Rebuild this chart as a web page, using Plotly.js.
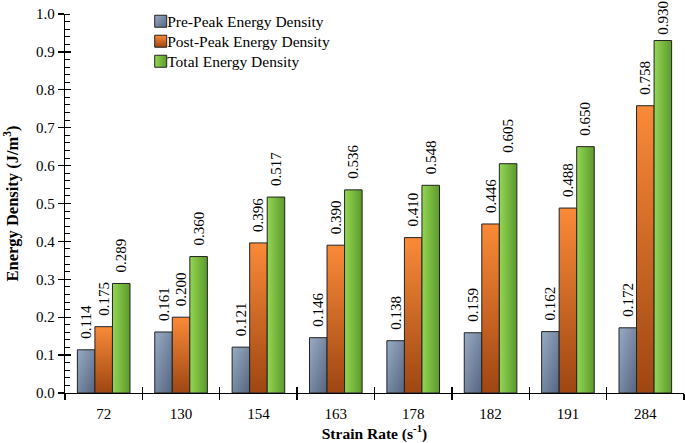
<!DOCTYPE html>
<html>
<head>
<meta charset="utf-8">
<script src="https://cdn.plot.ly/plotly-3.0.1.min.js"></script>
<style>html,body{margin:0;padding:0;background:#fff;}#chart{width:685px;height:443px;}</style>
</head>
<body>
<div id="chart"></div>
<script>
const categories = ['72', '130', '154', '163', '178', '182', '191', '284'];
const prePeak = [0.114, 0.161, 0.121, 0.146, 0.138, 0.159, 0.162, 0.172];
const postPeak = [0.175, 0.200, 0.396, 0.390, 0.410, 0.446, 0.488, 0.758];
const totalEnergy = [0.289, 0.360, 0.517, 0.536, 0.548, 0.605, 0.650, 0.930];
const seriesNames = ['Pre-Peak Energy Density', 'Post-Peak Energy Density', 'Total Energy Density'];
const yTickVals = [0, 0.1, 0.2, 0.3, 0.4, 0.5, 0.6, 0.7, 0.8, 0.9, 1.0];

const FONT = 'Liberation Serif, Times New Roman, serif';
const colors = ['#7387a6', '#e06e24', '#78bd3c'];
const series = [prePeak, postPeak, totalEnergy];

const traces = series.map((vals, i) => ({
  type: 'bar',
  name: seriesNames[i],
  x: categories,
  y: vals,
  marker: {color: colors[i], line: {color: '#222', width: 1}},
  text: vals.map(v => v.toFixed(3)),
  textposition: 'outside',
  textangle: -90,
  constraintext: 'none',
  cliponaxis: false,
  textfont: {family: FONT, size: 15, color: '#000'},
  hoverinfo: 'x+y'
}));

const layout = {
  width: 685, height: 443,
  margin: {l: 65, r: 1, t: 14, b: 50},
  paper_bgcolor: '#fff', plot_bgcolor: '#fff',
  font: {family: FONT, size: 15, color: '#000'},
  barmode: 'group',
  bargap: 0.32,
  bargroupgap: 0,
  showlegend: true,
  legend: {x: 0.1005, y: 1.022, xanchor: 'left', yanchor: 'top',
           font: {family: FONT, size: 15.5, color: '#000'}, bgcolor: 'rgba(0,0,0,0)',
           tracegroupgap: 0, itemwidth: 30},
  xaxis: {
    type: 'category', categoryarray: categories, range: [-0.5, 7.5],
    showline: true, linecolor: '#000', linewidth: 1.3,
    ticks: 'outside', tickson: 'boundaries', ticklen: 6, tickcolor: '#000', tickwidth: 1.3,
    tickfont: {family: FONT, size: 15}, ticklabelstandoff: 7,
    showgrid: false, zeroline: false,
    title: {text: '<b>Strain Rate (s<sup>-1</sup>)</b>', font: {family: FONT, size: 15.5}, standoff: 9}
  },
  xaxis2: {
    type: 'category', categoryarray: categories, range: [-0.5, 7.5], overlaying: 'x',
    showline: false,
    ticks: 'inside', tickson: 'boundaries', ticklen: 6, tickcolor: '#000', tickwidth: 1.3,
    showticklabels: false, showgrid: false, zeroline: false
  },
  yaxis: {
    range: [0, 1.0], tickvals: yTickVals, tickformat: '.1f',
    showline: true, linecolor: '#000', linewidth: 1.3,
    ticks: 'outside', ticklen: 6, tickcolor: '#000', tickwidth: 1.3,
    minor: {dtick: 0.02, ticks: 'inside', ticklen: 5, tickcolor: '#000', tickwidth: 1, showgrid: false},
    tickfont: {family: FONT, size: 15},
    showgrid: false, zeroline: false,
    title: {text: '<b>Energy Density (J/m<sup>3</sup>)</b>', font: {family: FONT, size: 16.5}, standoff: 13}
  },
  yaxis2: {
    range: [0, 1.0], overlaying: 'y', tickvals: yTickVals,
    ticks: 'inside', ticklen: 6, tickcolor: '#000', tickwidth: 1.3,
    showticklabels: false, showgrid: false, zeroline: false, showline: false
  }
};

// invisible helper trace to anchor secondary axes
const helper = {type: 'scatter', x: categories, y: prePeak, xaxis: 'x2', yaxis: 'y2',
  mode: 'markers', marker: {opacity: 0}, showlegend: false, hoverinfo: 'skip'};

Plotly.newPlot('chart', traces.concat([helper]), layout, {staticPlot: true, displayModeBar: false}).then(gd => {
  const NS = 'http://www.w3.org/2000/svg';
  const svg = gd.querySelector('.main-svg');
  let defs = svg.querySelector('defs');
  if (!defs) { defs = document.createElementNS(NS, 'defs'); svg.insertBefore(defs, svg.firstChild); }
  const grads = [
    {id: 'gBlue', x2: 1, y2: 1, stops: [['0', '#98aac4'], ['1', '#55657f']]},
    {id: 'gOrange', x2: 0, y2: 1, stops: [['0', '#fa8a38'], ['1', '#9e4612']]},
    {id: 'gGreen', x2: 1, y2: 0, stops: [['0', '#93d653'], ['1', '#5c9a2c']]}
  ];
  grads.forEach(g => {
    const lg = document.createElementNS(NS, 'linearGradient');
    lg.setAttribute('id', g.id);
    lg.setAttribute('x1', '0'); lg.setAttribute('y1', '0');
    lg.setAttribute('x2', String(g.x2)); lg.setAttribute('y2', String(g.y2));
    g.stops.forEach(s => {
      const st = document.createElementNS(NS, 'stop');
      st.setAttribute('offset', s[0]); st.setAttribute('stop-color', s[1]);
      lg.appendChild(st);
    });
    defs.appendChild(lg);
  });
  const barTraces = gd.querySelectorAll('.barlayer .trace');
  barTraces.forEach((t, i) => {
    t.querySelectorAll('.point path').forEach(p => { p.style.fill = 'url(#' + grads[i].id + ')'; });
  });
  // lift value labels a little further above the bars, as in the reference
  const svgTop = svg.getBoundingClientRect().top;
  gd.querySelectorAll('.bartext').forEach(tx => {
    const r = tx.getBoundingClientRect();
    const shift = Math.max(0, Math.min(8, r.top - svgTop - 1));
    const old = tx.getAttribute('transform') || '';
    tx.setAttribute('transform', 'translate(0,' + (-shift) + ') ' + old);
  });
  const legendItems = gd.querySelectorAll('.legend .traces');
  let firstY = null;
  legendItems.forEach((t, i) => {
    t.querySelectorAll('.legendpoints path').forEach(p => {
      if (i < 3) p.style.fill = 'url(#' + grads[i].id + ')';
    });
    const lp = t.querySelector('.legendpoints');
    if (lp) lp.setAttribute('transform', 'translate(13.5,0)');
    const tr = t.getAttribute('transform') || '';
    const m = tr.match(/translate\(\s*([-\d.]+)[ ,]+([-\d.]+)\s*\)/);
    if (m) {
      const x0 = parseFloat(m[1]), y0 = parseFloat(m[2]);
      if (firstY === null) firstY = y0 - 1;
      t.setAttribute('transform', 'translate(' + x0 + ',' + (firstY + i * 20) + ')');
    }
  });
});
</script>
</body>
</html>
